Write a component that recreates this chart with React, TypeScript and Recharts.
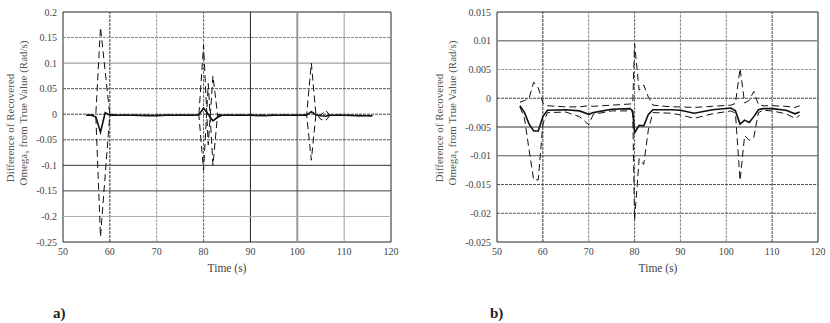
import React from 'react';
import { LineChart, Line, XAxis, YAxis, ReferenceLine, ReferenceArea } from 'recharts';

// ---------- data ----------
const xTicks = [50, 60, 70, 80, 90, 100, 110, 120];

const leftYTicks = [0.2, 0.15, 0.1, 0.05, 0, -0.05, -0.1, -0.15, -0.2, -0.25];
const leftTime = [55, 56, 57, 58, 59, 60, 62, 65, 68, 70, 72, 75, 78, 79, 80, 81, 82, 83, 84, 87, 90, 93, 95, 98, 100, 102, 103, 104, 105, 106, 107, 110, 113, 116];
const leftSolid = [-0.002, -0.002, -0.005, -0.035, 0.003, -0.002, -0.002, -0.002, -0.003, -0.003, -0.002, -0.002, -0.002, -0.001, 0.012, 0.0, -0.013, -0.006, -0.002, -0.002, -0.002, -0.003, -0.002, -0.002, -0.002, -0.002, 0.005, -0.001, -0.003, -0.004, -0.002, -0.002, -0.003, -0.003];
const leftUpper = [-0.002, -0.002, -0.001, 0.17, null, -0.002, -0.002, -0.002, -0.002, -0.002, -0.002, -0.002, -0.002, -0.001, 0.135, -0.06, 0.075, -0.002, -0.002, -0.002, -0.002, -0.002, -0.002, -0.002, -0.002, -0.001, 0.1, -0.003, -0.002, 0.008, -0.002, -0.002, -0.002, -0.003];
const leftLower = [-0.002, -0.002, -0.002, -0.24, null, 0.0, -0.002, -0.002, -0.002, -0.002, -0.002, -0.002, -0.002, -0.002, -0.11, 0.06, -0.1, 0.0, -0.002, -0.002, -0.002, -0.002, -0.002, -0.002, -0.002, -0.002, -0.09, 0.002, -0.01, -0.013, -0.002, -0.002, -0.003, -0.003];

const rightYTicks = [0.015, 0.01, 0.005, 0, -0.005, -0.01, -0.015, -0.02, -0.025];
const rightTime = [55, 56, 57, 58, 59, 60, 61, 65, 68, 70, 71, 75, 79, 79.6, 80, 81, 82, 83, 84, 88, 90, 93, 97, 101, 102, 103, 104, 105, 106, 107, 108, 110, 113, 115, 116];
const rightSolid = [-0.0013, -0.0025, -0.0045, -0.0057, -0.0057, -0.0032, -0.0021, -0.002, -0.0022, -0.0028, -0.0025, -0.0019, -0.0018, -0.0022, -0.006, -0.0047, -0.0048, -0.0028, -0.002, -0.002, -0.0021, -0.0026, -0.002, -0.0017, -0.0022, -0.0045, -0.0038, -0.0042, -0.0032, -0.002, -0.0018, -0.0018, -0.0021, -0.0027, -0.0024];
const rightUpper = [-0.0007, -0.0004, 0.0, 0.0028, 0.0018, -0.0008, -0.0013, -0.0015, -0.0015, -0.0013, -0.0014, -0.0012, -0.001, -0.0009, 0.0095, 0.0014, 0.0023, 0.0002, -0.0012, -0.0015, -0.0015, -0.0016, -0.0014, -0.0012, -0.0009, 0.0052, -0.0008, -0.0004, 0.0012, -0.0011, -0.0013, -0.0013, -0.0014, -0.0016, -0.0013];
const rightLower = [-0.0015, -0.0035, -0.009, -0.0142, -0.0142, -0.0045, -0.0025, -0.0024, -0.0032, -0.0046, -0.0028, -0.0022, -0.0022, -0.0025, -0.0212, -0.0105, -0.0115, -0.0055, -0.0025, -0.0026, -0.0029, -0.0035, -0.0027, -0.0022, -0.0026, -0.0143, -0.0065, -0.0073, -0.0068, -0.0025, -0.0021, -0.0022, -0.0027, -0.0035, -0.003];

// ---------- grid styles (not data) ----------
type G = { stroke: string; dash?: string; w?: number };
const GD = '3 1';
const leftVGrid: G[] = [
  { stroke: '#333', dash: GD }, { stroke: '#999', dash: GD }, { stroke: '#666', dash: GD },
  { stroke: '#222' }, { stroke: '#999', w: 2 }, { stroke: '#999' },
];
const leftHGrid: G[] = [
  { stroke: '#888', dash: GD }, { stroke: '#888' }, { stroke: '#555', dash: GD }, { stroke: '#444', dash: GD },
  { stroke: '#555', dash: GD }, { stroke: '#333' }, { stroke: '#444' }, { stroke: '#aaa' },
];
const rightVGrid: G[] = [
  { stroke: '#333', dash: GD }, { stroke: '#888', dash: GD }, { stroke: '#666', dash: GD },
  { stroke: '#888', dash: GD }, { stroke: '#888', dash: GD }, { stroke: '#444', dash: GD },
];
const rightHGrid: G[] = [
  { stroke: '#888', w: 1.5 }, { stroke: '#999', dash: GD }, { stroke: '#444', dash: GD },
  { stroke: '#333' }, { stroke: '#555' }, { stroke: '#555', dash: GD }, { stroke: '#555', dash: GD },
];

const FONT = '"Liberation Serif", "DejaVu Serif", serif';

function Panel(props: {
  time: number[]; solid: number[]; upper: (number | null)[]; lower: (number | null)[];
  yTicks: number[]; vGrid: G[]; hGrid: G[]; yAxisWidth: number; rightMargin: number;
}) {
  const { time, solid, upper, lower, yTicks, vGrid, hGrid, yAxisWidth, rightMargin } = props;
  const data = time.map((t, i) => ({ t, s: solid[i], u: upper[i], l: lower[i] }));
  const yMin = yTicks[yTicks.length - 1];
  const yMax = yTicks[0];
  const innerX = xTicks.slice(1, -1);
  const innerY = yTicks.slice(1, -1);
  const tickStyle = { fontFamily: FONT, fontSize: 10, fill: '#444' };
  return (
    <LineChart width={415} height={323} data={data} margin={{ top: 12, right: rightMargin, left: 0, bottom: 51 }}>
      <XAxis dataKey="t" type="number" domain={[50, 120]} ticks={xTicks} allowDataOverflow
        tickLine={false} axisLine={false} tickSize={0} tickMargin={6} height={30} tick={tickStyle} interval={0} />
      <YAxis type="number" domain={[yMin, yMax]} ticks={yTicks} allowDataOverflow
        tickLine={false} axisLine={false} tickSize={0} tickMargin={6} width={yAxisWidth} tick={tickStyle}
        interval={0} tickFormatter={(v: number) => String(v)} />
      {innerX.map((x, i) => (
        <ReferenceLine key={'vx' + x} x={x} stroke={vGrid[i].stroke} strokeDasharray={vGrid[i].dash}
          strokeWidth={vGrid[i].w || 1} ifOverflow="visible" />
      ))}
      {innerY.map((y, i) => (
        <ReferenceLine key={'hy' + y} y={y} stroke={hGrid[i].stroke} strokeDasharray={hGrid[i].dash}
          strokeWidth={hGrid[i].w || 1} ifOverflow="visible" />
      ))}
      <ReferenceArea x1={50} x2={120} y1={yMin} y2={yMax} fill="none" stroke="#222" strokeWidth={1} ifOverflow="visible" />
      <Line dataKey="u" stroke="#111" strokeWidth={1} strokeDasharray="7 4" dot={false} connectNulls isAnimationActive={false} />
      <Line dataKey="l" stroke="#111" strokeWidth={1} strokeDasharray="7 4" dot={false} connectNulls isAnimationActive={false} />
      <Line dataKey="s" stroke="#111" strokeWidth={1.6} dot={false} connectNulls isAnimationActive={false} />
    </LineChart>
  );
}

function YLabel({ x1, x2, yc1, yc2 }: { x1: number; x2: number; yc1: number; yc2: number }) {
  return (
    <g fontFamily={FONT} fontSize={11} fill="#555">
      <text transform={`translate(${x1},${yc1}) rotate(-90)`} textAnchor="middle" dominantBaseline="central">
        Difference of Recovered
      </text>
      <text transform={`translate(${x2},${yc2}) rotate(-90)`} textAnchor="middle" dominantBaseline="central">
        <tspan>Omega</tspan>
        <tspan dy={4} fontSize={7}>x</tspan>
        <tspan dy={-4}> from True Value (Rad/s)</tspan>
      </text>
    </g>
  );
}

export default function App() {
  return (
    <div style={{ position: 'absolute', left: 0, top: 0, width: 830, height: 323, background: '#fff', overflow: 'hidden' }}>
      <div style={{ position: 'absolute', left: 0, top: 0 }}>
        <Panel time={leftTime} solid={leftSolid} upper={leftUpper} lower={leftLower} yTicks={leftYTicks}
          vGrid={leftVGrid} hGrid={leftHGrid} yAxisWidth={63} rightMargin={24} />
      </div>
      <div style={{ position: 'absolute', left: 415, top: 0 }}>
        <Panel time={rightTime} solid={rightSolid} upper={rightUpper} lower={rightLower} yTicks={rightYTicks}
          vGrid={rightVGrid} hGrid={rightHGrid} yAxisWidth={82} rightMargin={12} />
      </div>
      <svg width={830} height={323} style={{ position: 'absolute', left: 0, top: 0, pointerEvents: 'none' }}>
        <YLabel x1={10} x2={23} yc1={128} yc2={113} />
        <YLabel x1={439} x2={452} yc1={128} yc2={113} />
        <text x={227} y={268} textAnchor="middle" dominantBaseline="central" fontFamily={FONT} fontSize={11.5} fill="#444">Time (s)</text>
        <text x={658} y={268} textAnchor="middle" dominantBaseline="central" fontFamily={FONT} fontSize={11.5} fill="#444">Time (s)</text>
        <text x={53} y={313} dominantBaseline="central" fontFamily={FONT} fontSize={15} fontWeight="bold" fill="#222">a)</text>
        <text x={490} y={313} dominantBaseline="central" fontFamily={FONT} fontSize={15} fontWeight="bold" fill="#222">b)</text>
      </svg>
    </div>
  );
}
